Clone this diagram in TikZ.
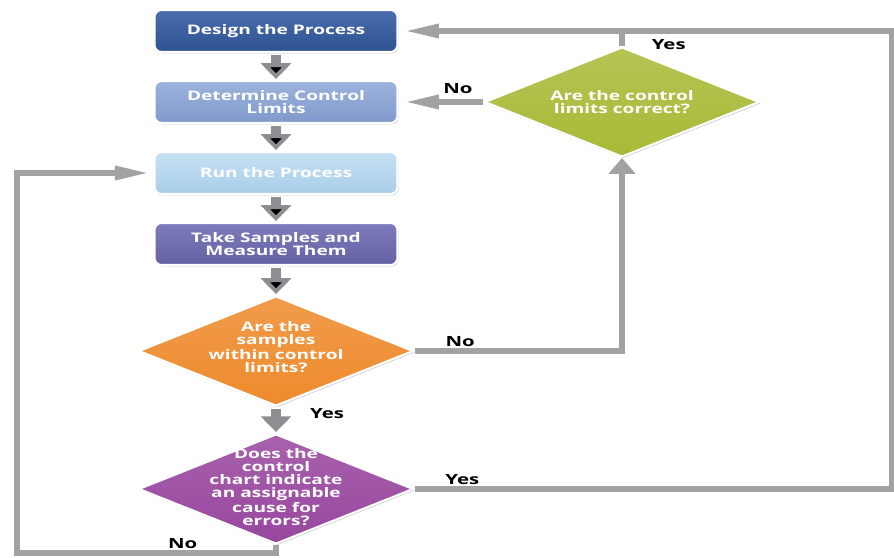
\documentclass[tikz,border=0pt]{standalone}
\usepackage{fontspec}
\newfontfamily\flowfont[FakeStretch=1.45]{Open Sans}
\usetikzlibrary{positioning,shapes.geometric,arrows.meta,shadows}
\definecolor{designtop}{HTML}{4A6DAE}
\definecolor{designbot}{HTML}{2E5290}
\definecolor{limitstop}{HTML}{9CB3DD}
\definecolor{limitsbot}{HTML}{8099CB}
\definecolor{runtop}{HTML}{C6E1F3}
\definecolor{runbot}{HTML}{A9CDE9}
\definecolor{measuretop}{HTML}{7E7CBC}
\definecolor{measurebot}{HTML}{6461A3}
\definecolor{samplesorange}{HTML}{EE8A2C}
\definecolor{causepurple}{HTML}{98469E}
\definecolor{limitsgreen}{HTML}{A9B936}
\definecolor{linegray}{HTML}{A2A2A4}
\definecolor{arrowgray}{HTML}{8E8E92}

\begin{document}
\begin{tikzpicture}[node distance =1.42cm, on grid,
box/.style ={rectangle, rounded corners=4pt, draw=white, line width=1.2pt,
 minimum width=4.86cm, minimum height=0.84cm, text=white, align=center,
 font=\flowfont\bfseries\fontsize{7.5}{7.6}\selectfont,
 drop shadow={shadow xshift=0.6pt, shadow yshift=-0.8pt, fill=black!45, opacity=0.5}},
decision/.style ={diamond, draw=white, line width=1.2pt, inner sep=0pt,
 minimum width=5.5cm, minimum height=2.2cm,
 drop shadow={shadow xshift=0.6pt, shadow yshift=-0.8pt, fill=black!45, opacity=0.5}},
dtext/.style ={text=white, align=center,
 font=\flowfont\bfseries\fontsize{7.5}{7.4}\selectfont},
lbl/.style ={text=black, inner sep=1pt,
 font=\flowfont\bfseries\fontsize{8}{8}\selectfont},
down/.style ={draw=arrowgray, line width=5.5pt, shorten <=1pt, shorten >=0.5pt,
 -{Triangle[width=17pt,length=9pt]}},
flow/.style ={draw=linegray, line width=3.4pt, line join=miter,
 -{Triangle[width=7.5pt,length=20pt]}}]
  \useasboundingbox (0,0) rectangle (17.88,11.14);
  \node[box, top color=designtop, bottom color=designbot](design) at (5.52,10.52){Design the Process};
  \node[box, top color=limitstop, bottom color=limitsbot](limits)[below = of design]{Determine Control\\Limits};
  \node[box, top color=runtop, bottom color=runbot](run)[below = of limits]{Run the Process};
  \node[box, top color=measuretop, bottom color=measurebot](measure)[below = of run]{Take Samples and\\Measure Them};
  \node[decision, top color=samplesorange!85!white, bottom color=samplesorange](samples)[below = 2.14 of measure]{};
  \node[dtext](samplestext)[above = 0.08 of samples]{Are the\\samples\\within control\\limits?};
  \node[decision, top color=causepurple!85!white, bottom color=causepurple](cause)[below = 2.76 of samples]{};
  \node[dtext](causetext)[above = 0.04 of cause]{Does the\\control\\chart indicate\\an assignable\\cause for\\errors?};
  \node[decision, top color=limitsgreen!85!white, bottom color=limitsgreen](limitsok)[right = 6.92 of limits]{};
  \node[dtext](limitsoktext) at (limitsok){Are the control\\limits correct?};
  \coordinate (rightedge) at (17.84,10.52);
  \coordinate (leftedge) at (0.34,0.08);
  % main line down the middle
  \path[down] (design) edge (limits) (limits) edge (run) (run) edge (measure)
    (measure) edge (samples);
  \draw[down] (samples.south) -- node[lbl, right, pos=0.25, xshift=0.55cm]{Yes} (cause.north);
  % loops back
  \draw[flow, shorten >=2pt] (cause.south) |- node[lbl, above, pos=0.68]{No} (leftedge) |- (run.west);
  \draw[flow, shorten >=3pt] (cause.east) -| node[lbl, above, pos=0.05]{Yes} (rightedge) -- (design.east);
  \draw[flow, -{Triangle[width=15pt,length=9pt]}] (samples.east) -| node[lbl, above, pos=0.11]{No} (limitsok.south);
  \draw[flow, shorten >=3pt] (limitsok.west) -- node[lbl, above, pos=0.3, yshift=2pt]{No} (limits.east);
  \draw[flow, -] (limitsok.north) -- node[lbl, right, pos=0.1, xshift=0.5cm]{Yes} (limitsok.north |- design.east);
\end{tikzpicture}
\end{document}
